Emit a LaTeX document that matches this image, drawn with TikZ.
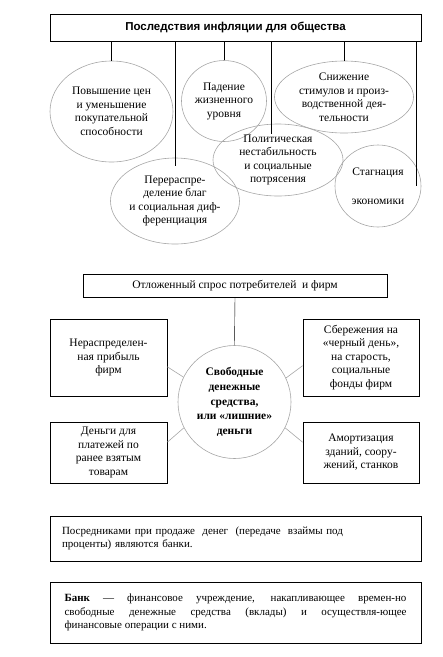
\documentclass[tikz,border=0pt]{standalone}
\usepackage{fontspec}
\setmainfont{Liberation Serif}
\newfontfamily\headfont{Liberation Sans}
\usetikzlibrary{shapes.geometric, calc}

\begin{document}
\begin{tikzpicture}[x=1pt, y=-1pt]
	\tikzstyle{every node} = [font=\fontsize{11.5}{13.5}\selectfont, align=center, inner sep=0pt]
	\tikzstyle{oval} = [ellipse, draw=gray!70, line width=0.6pt]
	\tikzstyle{frame} = [rectangle, draw, line width=0.8pt]
	\tikzstyle{link} = [draw=gray!70, line width=0.6pt]
	\useasboundingbox (0,0) rectangle (443,657);
	% consequences of inflation
	\node [frame, minimum width=371pt, minimum height=27pt, font=\headfont\bfseries\fontsize{11.5}{13.5}\selectfont] (title) at (235.5, 27.5) {Последствия инфляции для общества};
	\node [oval, minimum width=123pt, minimum height=101pt] (prices) at (111.5, 111.5) {Повышение цен\\и уменьшение\\покупательной\\способности};
	\node [oval, minimum width=85pt, minimum height=81pt] (living) at (224, 101) {Падение\\жизненного\\уровня};
	\node [oval, minimum width=139pt, minimum height=72pt] (stimuli) at (344, 97) {Снижение\\стимулов и произ-\\водственной дея-\\тельности};
	\node [oval, minimum width=130pt, minimum height=72pt] (politics) at (278, 160) {Политическая\\нестабильность\\и социальные\\потрясения};
	\node [oval, minimum width=129pt, minimum height=86pt] (redistr) at (175, 201) {Перераспре-\\деление благ\\и социальная диф-\\ференциация};
	\node [oval, minimum width=86pt, minimum height=82pt] (stagn) at (378, 186) {Стагнация\\[16pt]экономики};
	\draw [-] (title.south -| prices.north) -- (prices.north);
	\draw [-] (title.south -| redistr.north) -- ([yshift=-8pt]redistr.north);
	\draw [-] (title.south -| living.north) -- (living.north);
	\draw [-] (title.south -| politics.100) -- ([yshift=-10pt]politics.100);
	\draw [-] (title.south -| stimuli.north) -- (stimuli.north);
	\draw [-] ($(title.south -| stagn.east)+(-5,0)$) -- ($(stagn.east)+(-5,0)$);
	% free money
	\node [frame, minimum width=304pt, minimum height=23pt] (demand) at (235, 285.5) {Отложенный спрос потребителей \ и фирм};
	\node [circle, draw=gray!70, line width=0.6pt, minimum size=113pt, font=\bfseries\fontsize{11.5}{14.7}\selectfont] (free) at (234.5, 402) {Свободные\\денежные\\средства,\\или «лишние»\\деньги};
	\node [frame, minimum width=117pt, minimum height=77pt] (profit) at (108.5, 357.5) {Нераспределен-\\ная прибыль\\фирм};
	\node [frame, minimum width=116pt, minimum height=77pt] (savings) at (361, 357.5) {Сбережения на\\«черный день»,\\на старость,\\социальные\\фонды фирм};
	\node [frame, minimum width=117pt, minimum height=61pt] (debts) at (108.5, 452.5) {Деньги для\\платежей по\\ранее взятым\\товарам};
	\node [frame, minimum width=116pt, minimum height=61pt] (amort) at (361, 452.5) {Амортизация\\зданий, соору-\\жений, станков};
	\draw [-] (demand.south) -- (free.north);
	\draw [link] (profit.-9) -- (free.154);
	\draw [link] (savings.188) -- (free.25);
	\draw [link] (debts.10) -- (free.207);
	\draw [link] (amort.170) -- (free.333);
	% banks
	\node [frame, minimum width=371pt, minimum height=45pt, text width=347pt, align=left, font=\fontsize{11}{13}\selectfont] (middlemen) at (235.5, 538.5) {Посредниками при продаже \ денег \ (передаче \ взаймы под\\проценты) являются банки.};
	\node [frame, minimum width=371pt, minimum height=61pt, text width=342pt, align=justify, font=\fontsize{11}{13.5}\selectfont] (bank) at (235.5, 612.5) {{\bfseries Банк} — финансовое учреждение, накапливающее времен-но\linebreak свободные денежные средства (вклады) и осуществля-ющее\linebreak финансовые операции с ними.};
\end{tikzpicture}
\end{document}
